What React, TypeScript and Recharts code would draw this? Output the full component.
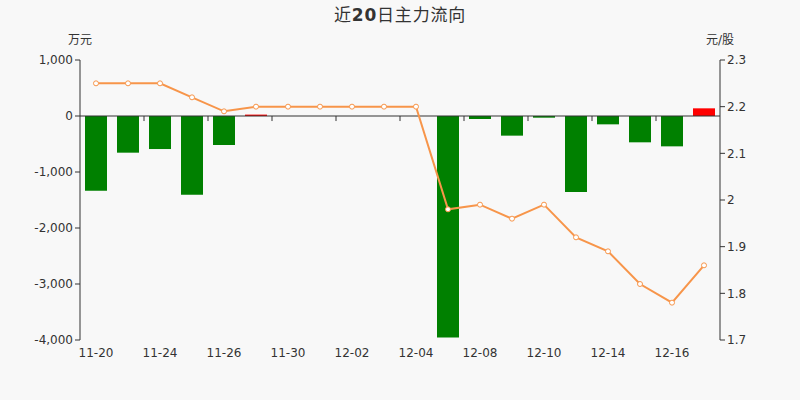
import React from 'react';
import { ComposedChart, Bar, Line, XAxis, YAxis, ReferenceLine, Cell } from 'recharts';

const dates = [
  '11-20', '11-23', '11-24', '11-25', '11-26', '11-27', '11-30', '12-01', '12-02', '12-03',
  '12-04', '12-07', '12-08', '12-09', '12-10', '12-11', '12-14', '12-15', '12-16', '12-17',
];
const flows = [
  -1335, -655, -590, -1405, -518, 25, 0, 0, 0, 0,
  0, -3955, -54, -351, -30, -1355, -149, -470, -542, 137,
];
const prices = [
  2.25, 2.25, 2.25, 2.22, 2.19, 2.2, 2.2, 2.2, 2.2, 2.2,
  2.2, 1.98, 1.99, 1.96, 1.99, 1.92, 1.89, 1.82, 1.78, 1.86,
];
const leftTicks = [1000, 0, -1000, -2000, -3000, -4000];
const rightTicks = [2.3, 2.2, 2.1, 2.0, 1.9, 1.8, 1.7];
const boundaryTicks = [2, 4, 6, 8, 10, 12, 14, 16, 18];

const data = dates.map((d, i) => ({ date: d, idx: i, flow: flows[i], price: prices[i] }));

const FONT = "'DejaVu Sans', 'Noto Sans CJK SC', sans-serif";
const AXIS = '#333';

export default function App() {
  return (
    <div style={{ position: 'absolute', left: 0, top: 0, width: 800, height: 400, background: '#f8f8f8', fontFamily: FONT }}>
      <div style={{ position: 'absolute', left: 0, top: 1, width: 800, textAlign: 'center', fontSize: 17, letterSpacing: 0.8, color: '#333', fontFamily: FONT }}>
        近<b>20</b>日主力流向
      </div>
      <div style={{ position: 'absolute', left: 55, top: 30, width: 50, textAlign: 'center', fontSize: 12, color: '#333' }}>万元</div>
      <div style={{ position: 'absolute', left: 695, top: 30, width: 50, textAlign: 'center', fontSize: 12, color: '#333' }}>元/股</div>
      <ComposedChart
        width={800}
        height={400}
        data={data}
        margin={{ top: 60, right: 0, bottom: 0, left: 0 }}
        style={{ position: 'absolute', left: 0, top: 0 }}
      >
        <XAxis
          dataKey="date"
          xAxisId="cat"
          interval={1}
          axisLine={false}
          tickLine={false}
          height={60}
          tick={{ fill: AXIS, fontSize: 12 }}
        />
        <XAxis xAxisId="num" dataKey="idx" type="number" domain={[-0.5, 19.5]} hide allowDataOverflow />
        <YAxis
          yAxisId="left"
          orientation="left"
          width={80}
          domain={[-4000, 1000]}
          ticks={leftTicks}
          interval={0}
          tickFormatter={(v: number) => v.toLocaleString('en-US')}
          tick={{ fill: AXIS, fontSize: 12 }}
          stroke={AXIS}
          tickSize={5}
          allowDataOverflow
        />
        <YAxis
          yAxisId="right"
          orientation="right"
          width={80}
          domain={[1.7, 2.3]}
          ticks={rightTicks}
          interval={0}
          tickFormatter={(v: number) => String(Number(v.toFixed(1)))}
          tick={{ fill: AXIS, fontSize: 12 }}
          stroke={AXIS}
          tickSize={5}
          allowDataOverflow
        />
        <Bar dataKey="flow" xAxisId="cat" yAxisId="left" barSize={22} isAnimationActive={false}>
          {data.map((d, i) => (
            <Cell key={i} fill={d.flow >= 0 ? '#ff0000' : '#008000'} />
          ))}
        </Bar>
        <ReferenceLine y={0} yAxisId="left" xAxisId="cat" stroke={AXIS} strokeWidth={1} />
        {boundaryTicks.map((b) => (
          <ReferenceLine
            key={b}
            xAxisId="num"
            yAxisId="left"
            segment={[{ x: b - 0.5, y: 0 }, { x: b - 0.5, y: -90 }]}
            stroke={AXIS}
            strokeWidth={1}
          />
        ))}
        <Line
          dataKey="price"
          xAxisId="cat"
          yAxisId="right"
          type="linear"
          stroke="#f7954a"
          strokeWidth={2}
          dot={{ r: 2.5, fill: '#fff', stroke: '#f7954a', strokeWidth: 1 }}
          isAnimationActive={false}
        />
      </ComposedChart>
    </div>
  );
}
